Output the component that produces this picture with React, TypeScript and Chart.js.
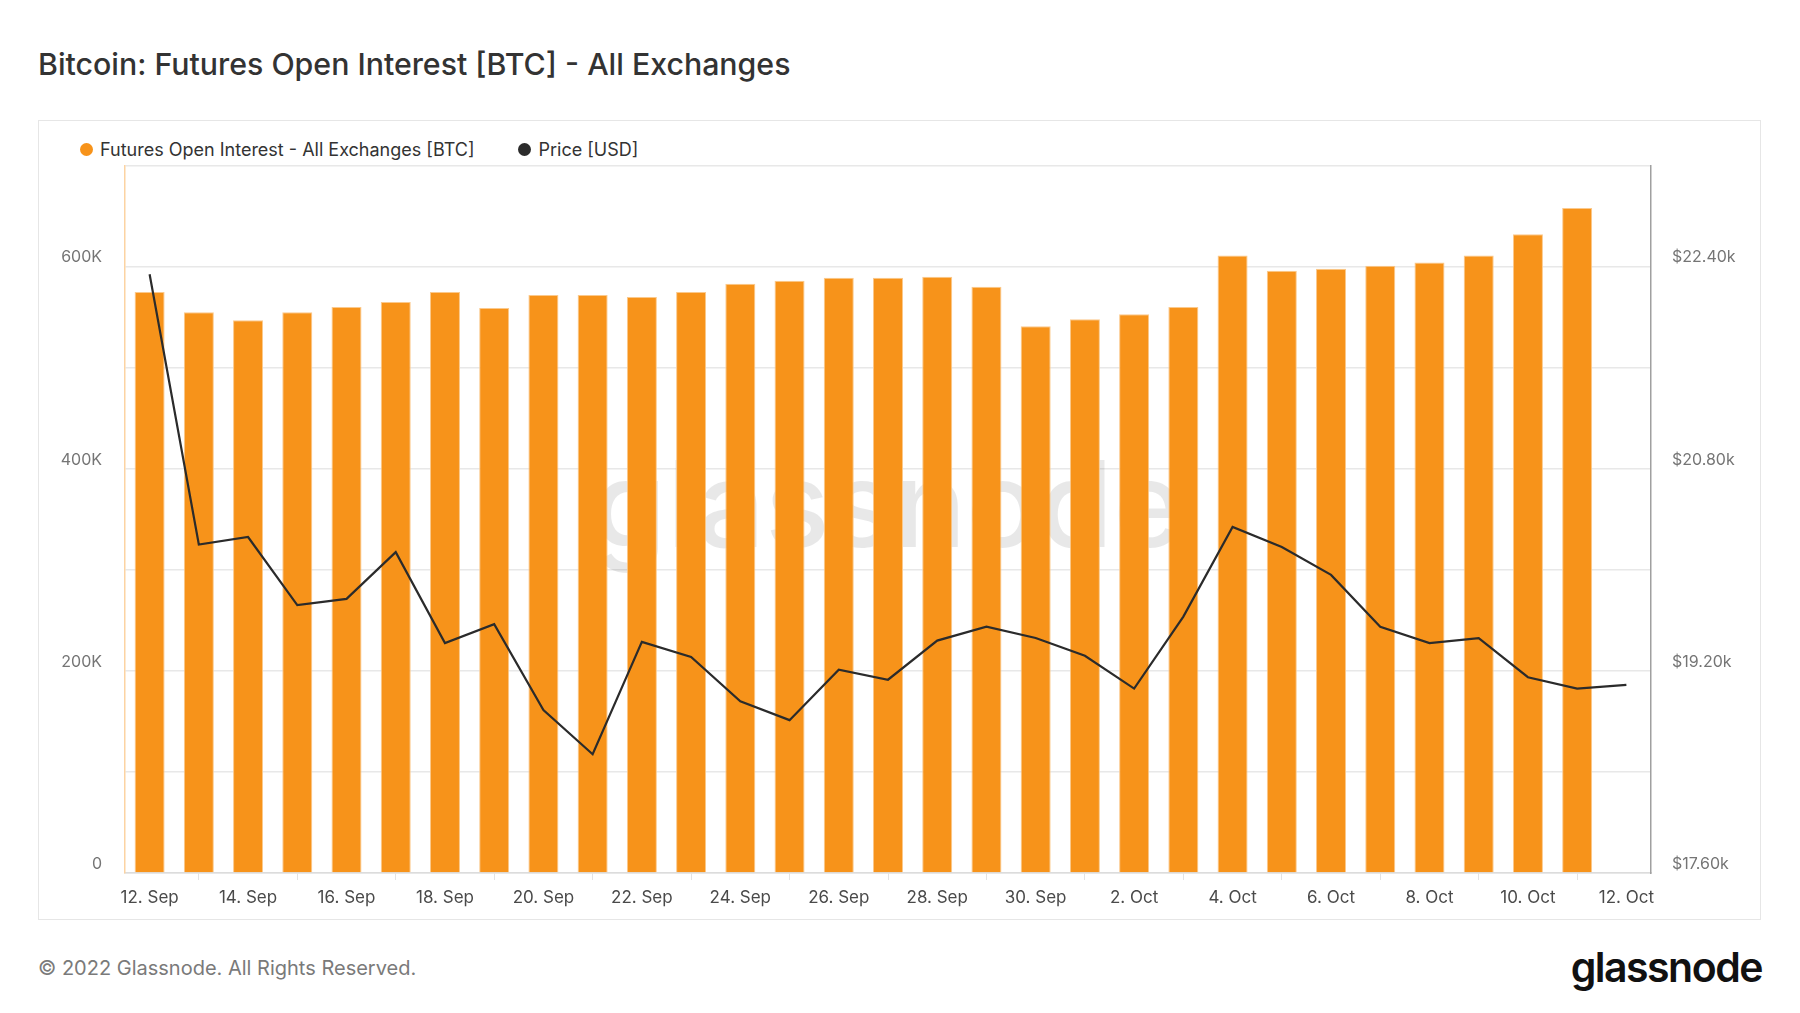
import { useEffect, useRef } from 'react';
import Chart from 'chart.js/auto';

const dateLabels = [
  '12. Sep', '13. Sep', '14. Sep', '15. Sep', '16. Sep', '17. Sep', '18. Sep', '19. Sep',
  '20. Sep', '21. Sep', '22. Sep', '23. Sep', '24. Sep', '25. Sep', '26. Sep', '27. Sep',
  '28. Sep', '29. Sep', '30. Sep', '1. Oct', '2. Oct', '3. Oct', '4. Oct', '5. Oct',
  '6. Oct', '7. Oct', '8. Oct', '9. Oct', '10. Oct', '11. Oct', '12. Oct',
];

// futures open interest, BTC (no bar for 12 Oct)
const openInterest = [
  575000, 555000, 547000, 555000, 560000, 565000, 575000, 559000,
  572000, 572000, 570000, 575000, 583000, 586000, 589000, 589000,
  590000, 580000, 541000, 548000, 553000, 560000, 611000, 596000,
  598000, 601000, 604000, 611000, 632000, 658000,
];

// BTC price, USD
const priceUsd = [
  22340, 20200, 20260, 19720, 19770, 20140, 19420, 19570,
  18890, 18540, 19430, 19310, 18960, 18810, 19210, 19130,
  19440, 19550, 19460, 19320, 19060, 19630, 20340, 20180,
  19960, 19550, 19420, 19460, 19150, 19060, 19090,
];

const FONT = 'Inter, "Noto Sans", sans-serif';

const watermark = {
  id: 'watermark',
  beforeDatasetsDraw(chart: Chart) {
    const { ctx, chartArea } = chart;
    ctx.save();
    ctx.font = `500 120px ${FONT}`;
    ctx.fillStyle = 'rgba(0,0,0,0.09)';
    ctx.textAlign = 'center';
    ctx.textBaseline = 'middle';
    ctx.fillText('glassnode', (chartArea.left + chartArea.right) / 2, (chartArea.top + chartArea.bottom) / 2 - 8);
    ctx.restore();
  },
};

export default function App() {
  const canvasRef = useRef<HTMLCanvasElement>(null);
  const chartRef = useRef<Chart | null>(null);

  useEffect(() => {
    if (!canvasRef.current) return;
    if (chartRef.current) chartRef.current.destroy();

    chartRef.current = new Chart(canvasRef.current, {
      type: 'bar',
      data: {
        labels: dateLabels,
        datasets: [
          {
            type: 'line',
            label: 'Price [USD]',
            data: priceUsd,
            yAxisID: 'y1',
            borderColor: '#2b2b2b',
            borderWidth: 2.2,
            pointRadius: 0,
            tension: 0,
            order: 0,
          },
          {
            type: 'bar',
            label: 'Futures Open Interest - All Exchanges [BTC]',
            data: openInterest,
            yAxisID: 'y',
            backgroundColor: '#f7931a',
            borderColor: '#fbc98c',
            borderWidth: 1,
            categoryPercentage: 1,
            barPercentage: 0.61,
            order: 1,
          },
        ],
      },
      options: {
        responsive: true,
        maintainAspectRatio: false,
        animation: false,
        layout: { padding: { top: 14, left: 0, right: 0, bottom: 0 } },
        plugins: {
          legend: { display: false },
          tooltip: { enabled: false },
        },
        scales: {
          x: {
            offset: true,
            grid: {
              drawOnChartArea: false,
              drawTicks: true,
              tickLength: 7,
              color: '#e3e3e3',
            },
            border: { color: '#dcdcdc', width: 1.5 },
            ticks: {
              autoSkip: false,
              maxRotation: 0,
              padding: 8,
              color: '#4a4a4a',
              font: { family: FONT, size: 17 },
              callback: (_v: any, i: number) => (i % 2 === 0 ? dateLabels[i] : null),
            },
            afterFit: (scale: any) => {
              scale.height = 48;
            },
          },
          y: {
            position: 'left',
            min: 0,
            max: 700000,
            grid: { color: '#e8e8e8', lineWidth: 1.5, drawTicks: false },
            border: { color: '#fcd3a2', width: 1.5 },
            ticks: {
              stepSize: 100000,
              padding: 23,
              labelOffset: -9,
              color: '#757575',
              font: { family: FONT, size: 16 },
              callback: (v: any) => {
                const n = Number(v);
                if (n % 200000 !== 0) return '';
                return n === 0 ? '0' : `${n / 1000}K`;
              },
            },
            afterFit: (scale: any) => {
              scale.width = 87;
            },
          },
          y1: {
            position: 'right',
            min: 17600,
            max: 23200,
            grid: { drawOnChartArea: false, drawTicks: false },
            border: { color: '#a0a0a0', width: 1.5 },
            ticks: {
              stepSize: 800,
              padding: 21,
              labelOffset: -9,
              color: '#757575',
              font: { family: FONT, size: 16 },
              callback: (v: any) => {
                const n = Number(v);
                if ((n - 17600) % 1600 !== 0) return '';
                return `$${(n / 1000).toFixed(2)}k`;
              },
            },
            afterFit: (scale: any) => {
              scale.width = 111;
            },
          },
        },
      },
      plugins: [watermark],
    });

    return () => {
      if (chartRef.current) {
        chartRef.current.destroy();
        chartRef.current = null;
      }
    };
  }, []);

  return (
    <div style={{ position: 'fixed', left: 0, top: 0, width: 1800, height: 1013, background: '#fff', fontFamily: FONT }}>
      <div style={{ position: 'absolute', left: 38, top: 46, fontSize: 30.3, fontWeight: 500, color: '#333', whiteSpace: 'nowrap' }}>
        Bitcoin: Futures Open Interest [BTC] - All Exchanges
      </div>

      <div style={{ position: 'absolute', left: 38, top: 120, width: 1721, height: 798, border: '1.5px solid #e6e6e6' }} />

      {/* legend */}
      <div style={{ position: 'absolute', left: 80, top: 137, height: 24, display: 'flex', alignItems: 'center', fontSize: 18, color: '#333', whiteSpace: 'nowrap' }}>
        <span style={{ width: 13, height: 13, borderRadius: '50%', background: '#f7931a', display: 'inline-block', marginRight: 7 }} />
        <span>Futures Open Interest - All Exchanges [BTC]</span>
        <span style={{ width: 13, height: 13, borderRadius: '50%', background: '#2b2b2b', display: 'inline-block', marginLeft: 44, marginRight: 7 }} />
        <span>Price [USD]</span>
      </div>

      <div style={{ position: 'absolute', left: 38, top: 133, width: 1724, height: 788 }}>
        <canvas ref={canvasRef}></canvas>
      </div>

      <div style={{ position: 'absolute', left: 38, top: 956, fontSize: 20, color: '#7a7a7a', whiteSpace: 'nowrap' }}>
        © 2022 Glassnode. All Rights Reserved.
      </div>
      <div style={{ position: 'absolute', right: 38, top: 942, fontSize: 41, fontWeight: 600, color: '#111', letterSpacing: -1.5, whiteSpace: 'nowrap' }}>
        glassnode
      </div>
    </div>
  );
}
